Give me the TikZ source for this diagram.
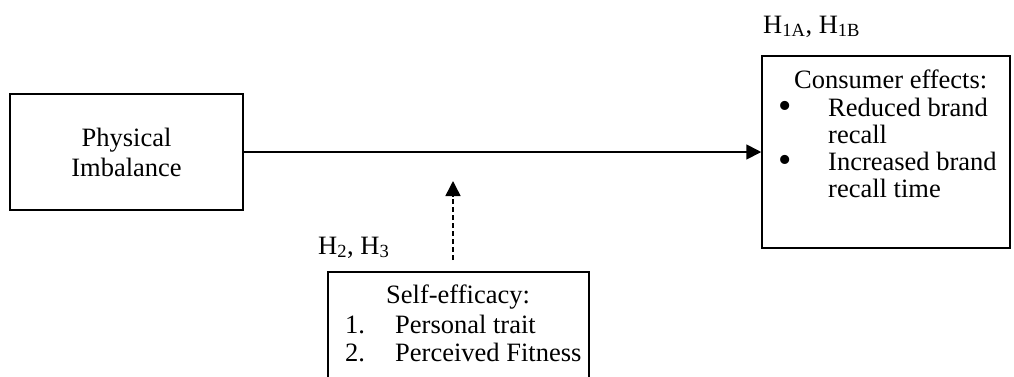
\documentclass[tikz,border=0pt]{standalone}
\usepackage{fontspec}
\setmainfont{Liberation Serif}
\usetikzlibrary{arrows.meta,positioning}

\begin{document}
\begin{tikzpicture}[x=1pt,y=-1pt,
 box/.style={draw,line width=1.5pt,inner sep=0pt,align=center,font=\fontsize{26.5}{30}\selectfont},
 txt/.style={inner sep=0pt,anchor=base west,font=\fontsize{26.5}{30}\selectfont},
 dot/.style={inner sep=0pt,font=\fontsize{38}{38}\selectfont},
 arr/.style={-{Triangle[length=15pt,width=15pt]},line width=1.7pt}]
\useasboundingbox (0,0) rectangle (1014,376);
\clip (0,0) rectangle (1014,376);
\node[box,minimum width=233pt,minimum height=116pt] (phys) at (126.5,152) {Physical\\Imbalance};
\node[box,minimum width=248pt,minimum height=192pt] (cons) at (886,152) {};
\node[box,minimum width=261pt,minimum height=128pt] (self) at (458.5,336) {};
\node[txt] (hone) at (763,33) {H\textsubscript{1A}, H\textsubscript{1B}};
\node[txt] (htwo) at (318,254) {H\textsubscript{2}, H\textsubscript{3}};
\node[txt] (conshead) at (794,88) {Consumer effects:};
\node[dot] (bulone) at (785,110) {•};
\node[txt] (lineone) at (828,116) {Reduced brand};
\node[txt] (linetwo) at (828,143) {recall};
\node[dot] (bultwo) at (785,164) {•};
\node[txt] (linethree) at (828,170) {Increased brand};
\node[txt] (linefour) at (828,197) {recall time};
\node[txt] (selfhead) at (386,303) {Self-efficacy:};
\node[txt] (numone) at (345,333) {1.};
\node[txt] (itemone) at (395,333) {Personal trait};
\node[txt] (numtwo) at (345,361) {2.};
\node[txt] (itemtwo) at (395,361) {Perceived Fitness};
\coordinate (modstart) at (453,260);
\coordinate (modtip) at (453,181);
\draw[arr] (phys.east) -- (cons.west);
\draw[arr,line width=1.5pt,dash pattern=on 5pt off 3pt] (modstart) -- (modtip);
\end{tikzpicture}
\end{document}
